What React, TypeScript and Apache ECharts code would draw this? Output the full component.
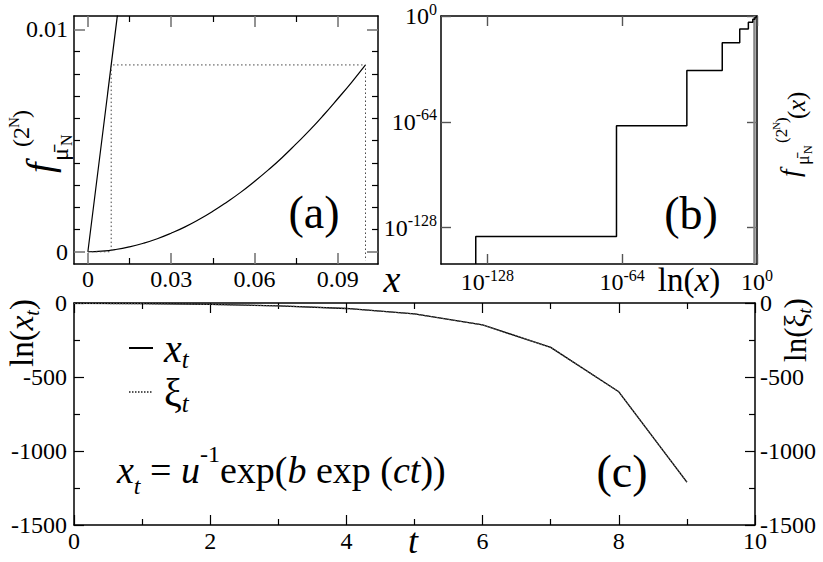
import React, { useEffect, useRef } from 'react';
import * as echarts from 'echarts';

const FONT = 'Liberation Serif';

// ---------- Panel (a) ----------
const aCurveX = [0, 0.005, 0.01, 0.015, 0.02, 0.025, 0.03, 0.035, 0.04, 0.045, 0.05, 0.055, 0.06, 0.065, 0.07, 0.075, 0.08, 0.085, 0.09, 0.095, 0.1];
const aCurveY = [0, 0.000027, 0.000101, 0.00022, 0.000383, 0.000587, 0.000835, 0.00112, 0.00145, 0.00182, 0.00223, 0.00267, 0.00316, 0.00368, 0.00424, 0.00485, 0.00548, 0.00616, 0.00688, 0.00762, 0.0084];
const aDiagX = [0, 0.011];
const aDiagY = [0, 0.011];
const aCobX = [0, 0.0084, 0.0084, 0.1, 0.1];
const aCobY = [0, 0, 0.0084, 0.0084, -0.0004];
const aXTicks = [0, 0.03, 0.06, 0.09];
const aXMinor = [0.015, 0.045, 0.075];
const aYTicks = [0, 0.01];
const aYMinor = [0.001, 0.002, 0.003, 0.004, 0.005, 0.006, 0.007, 0.008, 0.009];

// ---------- Panel (b) (log10 units) ----------
const bStepX = [-133.5, -133.5, -66.7, -33.3, -16.5, -8.2, -4.1, -2.0, -1.0, -0.5, 0];
const bStepY = [-150, -133.3, -66.4, -33.0, -16.2, -7.9, -3.8, -1.9, -0.9, -0.4, 0];
const bBandX = [-1.2, -1.2];
const bBandY = [-150, 0];
const bTicks = [-128, -64, 0];

// ---------- Panel (c) ----------
const cT = [0, 1, 2, 3, 4, 5, 6, 7, 8, 9];
const cLnX = [-2.4, -4.7, -9.5, -19, -37, -74, -148, -300, -600, -1210];
const cLnXi = [-2.4, -4.7, -9.5, -19, -37, -74, -148, -300, -600, -1210];

const zip = (xs: number[], ys: number[]) => xs.map((x, i) => [x, ys[i]]);

const LINE = { color: '#000', width: 1.5 };

function mkAxis(grid: number, position: string, min: number, max: number, cfg: any) {
  const ax: any = {
    type: 'value',
    gridIndex: grid,
    position,
    min,
    max,
    axisLine: { show: cfg.line !== false, onZero: false, lineStyle: LINE },
    axisTick: {
      show: cfg.ticks !== false,
      inside: true,
      length: cfg.tickLen ?? 10,
      lineStyle: { color: cfg.tickColor ?? '#000', width: cfg.tickWidth ?? 1.2 },
    },
    minorTick: cfg.minor
      ? { show: true, splitNumber: 2, length: 6, lineStyle: { color: '#000', width: 1.2 } }
      : { show: false },
    axisLabel: cfg.labels
      ? {
          show: true,
          formatter: cfg.fmt,
          margin: cfg.margin ?? 6,
          fontSize: 24,
          fontFamily: FONT,
          color: '#000',
          rich: cfg.rich,
          showMinLabel: true,
          showMaxLabel: true,
        }
      : { show: false },
    splitLine: { show: false },
    minorSplitLine: { show: false },
  };
  if (Array.isArray(cfg.tickValues)) ax.axisTick.customValues = cfg.tickValues;
  if (Array.isArray(cfg.labels)) ax.axisLabel.customValues = cfg.labels;
  if (cfg.interval) ax.interval = cfg.interval;
  return ax;
}

const fmtA = (v: number) => (v === 0 ? '0' : Number(v).toFixed(2));
const fmtLog = (v: number) => `{b|10}{s|${Math.round(v)}}`;
const logRich = {
  b: { fontSize: 24, fontFamily: FONT, color: '#000', lineHeight: 30 },
  s: { fontSize: 16, fontFamily: FONT, color: '#000', verticalAlign: 'top', lineHeight: 16 },
};

const A_X: [number, number] = [-0.005, 0.1045];
const A_Y: [number, number] = [-0.00055, 0.0106];
const B_R: [number, number] = [-150, 0];

const xAxes = [
  // (a) 0-3
  mkAxis(0, 'bottom', A_X[0], A_X[1], { tickValues: aXTicks, tickLen: 11, tickColor: '#777', tickWidth: 1.6, labels: aXTicks, fmt: fmtA, margin: 3 }),
  mkAxis(0, 'bottom', A_X[0], A_X[1], { tickValues: aXMinor, tickLen: 6, line: false }),
  mkAxis(0, 'top', A_X[0], A_X[1], { tickValues: aXTicks, tickLen: 11, tickColor: '#777', tickWidth: 1.6 }),
  mkAxis(0, 'top', A_X[0], A_X[1], { tickValues: aXMinor, tickLen: 6, line: false }),
  // (b) 4-5
  mkAxis(1, 'bottom', B_R[0], B_R[1], { tickValues: bTicks, tickLen: 10, tickColor: '#555', tickWidth: 1.4, labels: bTicks, fmt: fmtLog, rich: logRich, margin: 3 }),
  mkAxis(1, 'top', B_R[0], B_R[1], { tickValues: bTicks, tickLen: 10, tickColor: '#555', tickWidth: 1.4 }),
  // (c) 6-7
  mkAxis(2, 'bottom', 0, 10, { interval: 2, minor: true, tickLen: 10, labels: true, fmt: (v: number) => String(v), margin: 4 }),
  mkAxis(2, 'top', 0, 10, { interval: 2, minor: true, tickLen: 10 }),
];

const yAxes = [
  // (a) 0-3
  mkAxis(0, 'left', A_Y[0], A_Y[1], { tickValues: aYTicks, tickLen: 11, tickColor: '#777', tickWidth: 1.6, labels: aYTicks, fmt: fmtA, margin: 6 }),
  mkAxis(0, 'left', A_Y[0], A_Y[1], { tickValues: aYMinor, tickLen: 6, line: false }),
  mkAxis(0, 'right', A_Y[0], A_Y[1], { tickValues: aYTicks, tickLen: 11, tickColor: '#777', tickWidth: 1.6 }),
  mkAxis(0, 'right', A_Y[0], A_Y[1], { tickValues: aYMinor, tickLen: 6, line: false }),
  // (b) 4-5
  mkAxis(1, 'left', B_R[0], B_R[1], { tickValues: bTicks, tickLen: 10, tickColor: '#555', tickWidth: 1.4, labels: bTicks, fmt: fmtLog, rich: logRich, margin: 4 }),
  mkAxis(1, 'right', B_R[0], B_R[1], { tickValues: bTicks, tickLen: 10, tickColor: '#555', tickWidth: 1.4 }),
  // (c) 6-7
  mkAxis(2, 'left', -1500, 0, { interval: 500, minor: true, tickLen: 10, labels: true, fmt: (v: number) => String(v), margin: 7 }),
  mkAxis(2, 'right', -1500, 0, { interval: 500, minor: true, tickLen: 10, labels: true, fmt: (v: number) => String(v), margin: 5 }),
];

const ital = { fontStyle: 'italic' };

function txt(x: number, y: number, text: string, fontSize: number, extra: any = {}) {
  return {
    type: 'text',
    x,
    y,
    silent: true,
    style: {
      text,
      fontSize,
      fontFamily: FONT,
      fill: '#000',
      align: 'center',
      verticalAlign: 'middle',
      ...extra,
    },
  };
}
const L = { align: 'left' };

const graphics: any[] = [
  // panel letters
  txt(314, 212, '(a)', 46),
  txt(691, 213, '(b)', 46),
  txt(622, 471, '(c)', 46),
  // axis names
  txt(392, 279, 'x', 38, ital),
  txt(413, 541, 't', 36, ital),
  {
    type: 'text', x: 689, y: 280, silent: true,
    style: {
      text: '{n|ln(}{i|x}{n|)}', fontFamily: FONT, fill: '#000', align: 'center', verticalAlign: 'middle',
      rich: { n: { fontSize: 33, fontFamily: FONT }, i: { fontSize: 33, fontFamily: FONT, fontStyle: 'italic' } },
    },
  },
  {
    type: 'text', x: 22, y: 333, rotation: Math.PI / 2, silent: true,
    style: {
      text: '{n|ln(}{i|x}{s|t}{n|)}', fontFamily: FONT, fill: '#000', align: 'center', verticalAlign: 'middle',
      rich: {
        n: { fontSize: 33, fontFamily: FONT, lineHeight: 40 },
        i: { fontSize: 33, fontFamily: FONT, fontStyle: 'italic', lineHeight: 40 },
        s: { fontSize: 20, fontFamily: FONT, fontStyle: 'italic', verticalAlign: 'bottom', lineHeight: 20 },
      },
    },
  },
  {
    type: 'text', x: 795, y: 330, rotation: Math.PI / 2, silent: true,
    style: {
      text: '{n|ln(}{g|ξ}{s|t}{n|)}', fontFamily: FONT, fill: '#000', align: 'center', verticalAlign: 'middle',
      rich: {
        n: { fontSize: 31, fontFamily: FONT, lineHeight: 38 },
        g: { fontSize: 31, fontFamily: FONT, lineHeight: 38 },
        s: { fontSize: 19, fontFamily: FONT, fontStyle: 'italic', verticalAlign: 'bottom', lineHeight: 19 },
      },
    },
  },
  // f label (a)
  {
    type: 'group', x: 40, y: 173, rotation: Math.PI / 2,
    children: [
      txt(0, 0, 'f', 38, { ...ital, ...L }),
      txt(12, 20, 'μ̄', 24, L),
      txt(27, 26, 'N', 16, L),
      txt(26, -19, '(2', 24, L),
      txt(45, -26, 'N', 15, L),
      txt(55, -19, ')', 24, L),
    ],
  },
  // f label (b)
  {
    type: 'group', x: 790, y: 177, rotation: Math.PI / 2,
    children: [
      txt(0, 0, 'f', 27, { ...ital, ...L }),
      txt(12, 13, 'μ̄', 18, L),
      txt(23, 18, 'N', 12, L),
      txt(34, -9, '(2', 17, L),
      txt(47, -14, 'N', 11, L),
      txt(54, -9, ')', 17, L),
      txt(58, 6, '(', 25, L),
      txt(66, 6, 'x', 25, { ...ital, ...L }),
      txt(77, 6, ')', 25, L),
    ],
  },
  // formula
  {
    type: 'text', x: 117, y: 470, silent: true,
    style: {
      text: '{i|x}{s|t}{n| = }{i|u}{p|-1}{n|exp(}{i|b}{n| exp (}{i|ct}{n|))}',
      fontFamily: FONT, fill: '#000', align: 'left', verticalAlign: 'middle',
      rich: {
        n: { fontSize: 38, fontFamily: FONT, lineHeight: 56 },
        i: { fontSize: 38, fontFamily: FONT, fontStyle: 'italic', lineHeight: 56 },
        s: { fontSize: 24, fontFamily: FONT, fontStyle: 'italic', verticalAlign: 'bottom', lineHeight: 24 },
        p: { fontSize: 24, fontFamily: FONT, verticalAlign: 'top', lineHeight: 24 },
      },
    },
  },
];

const option: any = {
  animation: false,
  backgroundColor: '#fff',
  textStyle: { fontFamily: FONT },
  grid: [
    { left: 74, top: 16, width: 304, height: 248, outerBoundsMode: 'none', containLabel: false },
    { left: 441, top: 16, width: 316, height: 248, outerBoundsMode: 'none', containLabel: false },
    { left: 74, top: 303, width: 681, height: 222, outerBoundsMode: 'none', containLabel: false },
  ],
  xAxis: xAxes,
  yAxis: yAxes,
  legend: {
    orient: 'vertical',
    left: 128,
    top: 328,
    padding: 0,
    itemGap: 0,
    itemWidth: 24,
    itemHeight: 12,
    selectedMode: false,
    data: ['xt', 'xit'],
    itemStyle: { opacity: 0 },
    formatter: (name: string) => (name === 'xt' ? '{i|x}{s|t}' : '{g|ξ}{s|t}'),
    textStyle: {
      color: '#000',
      fontFamily: FONT,
      rich: {
        i: { fontSize: 40, fontFamily: FONT, fontStyle: 'italic', lineHeight: 48, padding: [0, 0, 0, 6] },
        g: { fontSize: 40, fontFamily: FONT, lineHeight: 48, padding: [0, 0, 0, 6] },
        s: { fontSize: 25, fontFamily: FONT, fontStyle: 'italic', verticalAlign: 'bottom', lineHeight: 25 },
      },
    },
  },
  graphic: graphics,
  series: [
    {
      name: 'curve', type: 'line', xAxisIndex: 0, yAxisIndex: 0, data: zip(aCurveX, aCurveY),
      symbol: 'none', smooth: true, lineStyle: { color: '#000', width: 1.2 }, silent: true,
    },
    {
      name: 'diag', type: 'line', xAxisIndex: 0, yAxisIndex: 0, data: zip(aDiagX, aDiagY),
      symbol: 'none', lineStyle: { color: '#000', width: 1.2 }, silent: true,
    },
    {
      name: 'cobweb', type: 'line', xAxisIndex: 0, yAxisIndex: 0, data: zip(aCobX, aCobY),
      symbol: 'none', lineStyle: { color: '#444', width: 1, type: [1.5, 2.5] }, silent: true,
    },
    {
      name: 'band', type: 'line', xAxisIndex: 4, yAxisIndex: 4, data: zip(bBandX, bBandY),
      symbol: 'none', lineStyle: { color: '#888', width: 2.5 }, silent: true, z: 1,
    },
    {
      name: 'step', type: 'line', xAxisIndex: 4, yAxisIndex: 4, data: zip(bStepX, bStepY),
      step: 'end', symbol: 'none', lineStyle: { color: '#000', width: 1.5 }, silent: true,
    },
    {
      name: 'xt', type: 'line', xAxisIndex: 6, yAxisIndex: 6, data: zip(cT, cLnX),
      symbol: 'none', lineStyle: { color: '#000', width: 1.3 }, silent: true,
    },
    {
      name: 'xit', type: 'line', xAxisIndex: 6, yAxisIndex: 6, data: zip(cT, cLnXi),
      symbol: 'none', lineStyle: { color: '#555', width: 1.2, type: [1.5, 1.5] }, silent: true,
    },
  ],
};

export default function App() {
  const ref = useRef<HTMLDivElement>(null);
  useEffect(() => {
    document.body.style.margin = '0';
    const chart = echarts.init(ref.current as HTMLDivElement, undefined, { renderer: 'svg' });
    chart.setOption(option);
    return () => chart.dispose();
  }, []);
  return <div ref={ref} style={{ width: 823, height: 562, background: '#fff' }} />;
}
